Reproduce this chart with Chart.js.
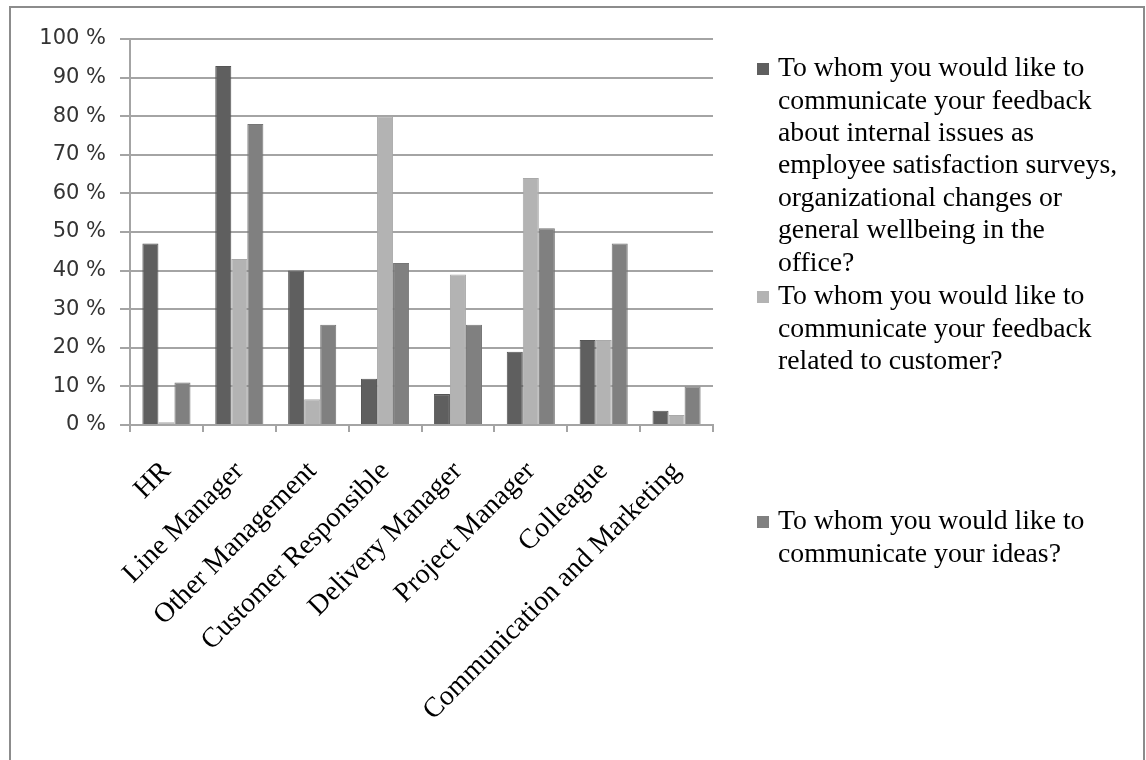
<!DOCTYPE html>
<html>
<head>
<meta charset="utf-8">
<script src="https://cdn.jsdelivr.net/npm/chart.js@4/dist/chart.umd.min.js"></script>
<style>
  html, body { margin: 0; padding: 0; background: #fff; }
  #wrap { position: relative; width: 1146px; height: 760px; overflow: hidden; }
  #frame { position: absolute; left: 9px; top: 6px; width: 1132px; height: 800px;
           border: 2px solid #8c8c8c; pointer-events: none; }
  canvas { position: absolute; left: 0; top: 0; }
</style>
</head>
<body>
<div id="wrap">
  <canvas id="chart" width="1146" height="760"></canvas>
  <div id="frame"></div>
</div>
<script>
// categories
const categories = ['HR', 'Line Manager', 'Other Management', 'Customer Responsible',
  'Delivery Manager', 'Project Manager', 'Colleague', 'Communication and Marketing'];

// series values (percent)
const internalFeedback = [47, 93, 40, 12, 8, 19, 22, 3.7];
const customerFeedback = [0.7, 43, 6.7, 80, 39, 64, 22, 2.6];
const ideas            = [11, 78, 26, 42, 26, 51, 47, 10];

// y tick values
const yTicks = [0, 10, 20, 30, 40, 50, 60, 70, 80, 90, 100];

// legend text, already broken in lines like the original
const internalLines = ['To whom you would like to', 'communicate your feedback',
  'about internal issues as', 'employee satisfaction surveys,',
  'organizational changes or', 'general wellbeing in the', 'office?'];
const customerLines = ['To whom you would like to', 'communicate your feedback',
  'related to customer?'];
const ideasLines = ['To whom you would like to', 'communicate your ideas?'];

const serif = '"Liberation Serif", "Times New Roman", serif';

// legend on the right, drawn by hand so the text can wrap
const sideLegend = {
  id: 'sideLegend',
  afterDraw(chart) {
    const ctx = chart.ctx;
    const tops = [69, 297, 522];
    const lines = [internalLines, customerLines, ideasLines];
    ctx.save();
    ctx.font = '27.7px ' + serif;
    ctx.textBaseline = 'middle';
    ctx.textAlign = 'left';
    chart.data.datasets.forEach((ds, i) => {
      const y0 = tops[i];
      ctx.fillStyle = ds.backgroundColor;
      ctx.fillRect(757, y0 - 6, 12, 12);
      ctx.fillStyle = '#000';
      lines[i].forEach((t, j) => ctx.fillText(t, 778, y0 + j * 32.4));
    });
    ctx.restore();
  }
};

const grey = '#a4a4a4';

new Chart(document.getElementById('chart').getContext('2d'), {
  type: 'bar',
  data: {
    labels: categories,
    datasets: [
      { label: internalLines.join(' '), data: internalFeedback,
        backgroundColor: '#5f5f5f', borderColor: '#555555', borderWidth: 1 },
      { label: customerLines.join(' '), data: customerFeedback,
        backgroundColor: '#b3b3b3', borderColor: '#a9a9a9', borderWidth: 1 },
      { label: ideasLines.join(' '), data: ideas,
        backgroundColor: '#808080', borderColor: '#767676', borderWidth: 1 }
    ]
  },
  options: {
    responsive: false,
    animation: false,
    layout: { padding: { left: 0, top: 39, right: 433, bottom: 0 } },
    categoryPercentage: 0.66,
    barPercentage: 1.0,
    plugins: { legend: { display: false }, tooltip: { enabled: false } },
    scales: {
      x: {
        afterFit(scale) { scale.height = 335; },
        grid: { display: true, drawOnChartArea: false, drawTicks: true, tickLength: 7,
                color: grey, lineWidth: 2, offset: true },
        border: { color: grey, width: 2 },
        ticks: {
          minRotation: 45, maxRotation: 45, autoSkip: false, padding: 23,
          color: '#000', font: { family: serif, size: 28 }
        }
      },
      y: {
        min: 0, max: 100,
        afterFit(scale) { scale.width = 130; },
        afterBuildTicks(scale) { scale.ticks = yTicks.map(v => ({ value: v })); },
        grid: { color: grey, lineWidth: 2, tickLength: 10 },
        border: { color: grey, width: 2 },
        ticks: {
          padding: 14, color: '#333333',
          font: { family: '"DejaVu Sans", sans-serif', size: 21 },
          callback: v => v + ' %'
        }
      }
    }
  },
  plugins: [sideLegend]
});
</script>
</body>
</html>
